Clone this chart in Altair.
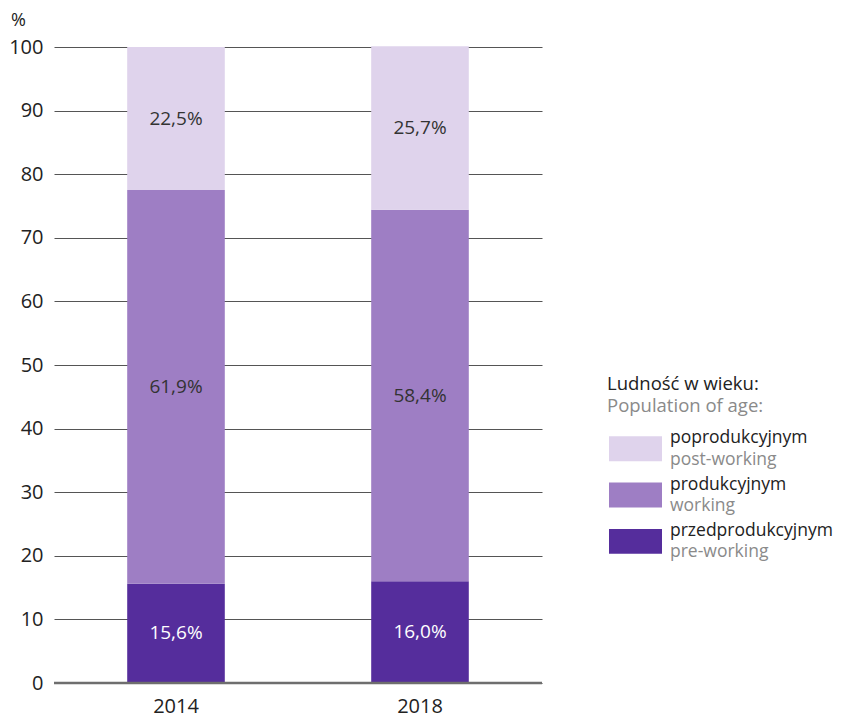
import altair as alt
import pandas as pd

years = ["2014", "2018"]
categories = ["przedprodukcyjnym", "produkcyjnym", "poprodukcyjnym"]
cat_en = ["pre-working", "working", "post-working"]
pre_working = [15.6, 16.0]
working = [61.9, 58.4]
post_working = [22.5, 25.7]
colors = ["#552D9C", "#9E7EC4", "#DFD3EC"]
text_colors = ["#ffffff", "#333333", "#333333"]

FONT = "Open Sans"

rows = []
for i, y in enumerate(years):
    for j, (c, vals) in enumerate(zip(categories, [pre_working, working, post_working])):
        v = vals[i]
        rows.append({"year": y, "cat": c, "order": j, "value": v,
                     "label": f"{v:.1f}".replace(".", ",") + "%",
                     "tcolor": text_colors[j]})
df = pd.DataFrame(rows)

color_scale = alt.Scale(domain=categories, range=colors)

base = alt.Chart(df).encode(
    x=alt.X("year:N", title=None,
            scale=alt.Scale(paddingInner=0.6, paddingOuter=0.3),
            axis=alt.Axis(labelAngle=0, labelFontSize=20, labelColor="#222",
                          labelFont=FONT, ticks=False, domain=False, labelPadding=13))
)

bars = base.mark_bar().encode(
    y=alt.Y("value:Q", stack="zero", title="%",
            scale=alt.Scale(domain=[0, 100]),
            axis=alt.Axis(values=list(range(0, 101, 10)), grid=True, gridColor="#555555",
                          gridWidth=1, ticks=False, domain=False, labelFontSize=20,
                          labelFont=FONT, labelColor="#222", labelPadding=11,
                          titleAngle=0, titleFontSize=18, titleFont=FONT,
                          titleFontWeight="normal", titleColor="#222",
                          titleX=-36, titleY=-22, titleAlign="center",
                          titleBaseline="alphabetic")),
    color=alt.Color("cat:N", scale=color_scale, legend=None),
    order=alt.Order("order:Q"),
)

labels = base.transform_stack(
    stack="value", groupby=["year"], as_=["v0", "v1"],
    sort=[alt.SortField("order", order="ascending")]
).transform_calculate(
    mid="(datum.v0 + datum.v1) / 2"
).mark_text(fontSize=19, font=FONT, baseline="middle").encode(
    y=alt.Y("mid:Q"),
    text="label:N",
    color=alt.Color("tcolor:N", scale=None),
)

zero = alt.Chart(pd.DataFrame({"z": [0]})).mark_rule(color="#6e6e6e", strokeWidth=2.5).encode(
    y="z:Q"
)

main = alt.layer(bars, labels, zero).properties(width=488, height=636)

leg_rows = []
for k, (c, e, col) in enumerate(zip(categories[::-1], cat_en[::-1], colors[::-1])):
    leg_rows.append({"k": k, "cat": c, "en": e, "col": col})
ldf = pd.DataFrame(leg_rows)

yscale = alt.Scale(domain=[-8.68, 5.06], reverse=True)
lbase = alt.Chart(ldf)

swatch = lbase.mark_point(
    shape="M-1,-0.47L1,-0.47L1,0.47L-1,0.47Z", filled=True, opacity=1, size=2809
).encode(
    x=alt.value(26.5),
    y=alt.Y("k:Q", scale=yscale, axis=None),
    color=alt.Color("col:N", scale=None),
)
ltext1 = lbase.mark_text(align="left", baseline="middle", fontSize=17.5, font=FONT,
                         color="#222", dy=-10.5).encode(
    x=alt.value(61), y=alt.Y("k:Q", scale=yscale, axis=None), text="cat:N")
ltext2 = lbase.mark_text(align="left", baseline="middle", fontSize=17.5, font=FONT,
                         color="#8a8a8a", dy=11).encode(
    x=alt.value(61), y=alt.Y("k:Q", scale=yscale, axis=None), text="en:N")

hdf = pd.DataFrame({"k": [0, 0], "t": ["Ludność w wieku:", "Population of age:"],
                    "c": ["#222222", "#8a8a8a"]})
h1 = alt.Chart(hdf.iloc[[0]]).mark_text(align="left", baseline="middle", fontSize=18.5,
                                         font=FONT, dy=-65).encode(
    x=alt.value(-2), y=alt.Y("k:Q", scale=yscale, axis=None), text="t:N",
    color=alt.Color("c:N", scale=None))
h2 = alt.Chart(hdf.iloc[[1]]).mark_text(align="left", baseline="middle", fontSize=18.5,
                                         font=FONT, dy=-43).encode(
    x=alt.value(-2), y=alt.Y("k:Q", scale=yscale, axis=None), text="t:N",
    color=alt.Color("c:N", scale=None))

legend = alt.layer(swatch, ltext1, ltext2, h1, h2).properties(width=180, height=636)

chart = alt.hconcat(main, legend, spacing=63).configure(
    padding={"left": 0, "top": 3, "right": 0, "bottom": 5}
).configure_view(stroke=None)

chart.save("out.html", embed_options={"renderer": "svg", "actions": False})
